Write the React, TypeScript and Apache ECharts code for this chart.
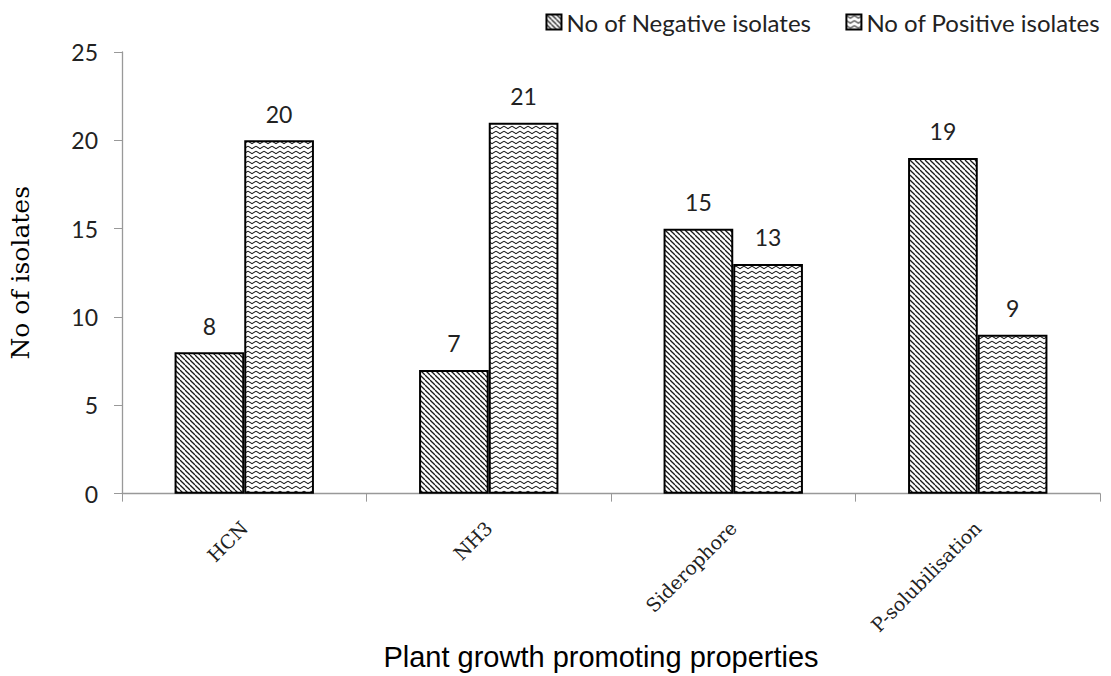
import React, { useEffect, useRef } from "react";
import * as echarts from "echarts";

const categories = ["HCN", "NH3", "Siderophore", "P-solubilisation"];
const negativeValues = [8, 7, 15, 19];
const positiveValues = [20, 21, 13, 9];
const seriesNames = ["No of Negative isolates", "No of Positive isolates"];
const yTicks = [0, 5, 10, 15, 20, 25];

function diagonalPattern(): HTMLCanvasElement {
  const s = 5;
  const c = document.createElement("canvas");
  c.width = s;
  c.height = s;
  const ctx = c.getContext("2d")!;
  ctx.fillStyle = "#ffffff";
  ctx.fillRect(0, 0, s, s);
  ctx.strokeStyle = "#1a1a1a";
  ctx.lineWidth = 1.3;
  for (const k of [-s, 0, s]) {
    ctx.beginPath();
    ctx.moveTo(k, 0);
    ctx.lineTo(k + s, s);
    ctx.stroke();
  }
  return c;
}

function wavePattern(): HTMLCanvasElement {
  const w = 8;
  const h = 5;
  const c = document.createElement("canvas");
  c.width = w;
  c.height = h;
  const ctx = c.getContext("2d")!;
  ctx.fillStyle = "#ffffff";
  ctx.fillRect(0, 0, w, h);
  ctx.strokeStyle = "#1a1a1a";
  ctx.lineWidth = 1.1;
  ctx.beginPath();
  ctx.moveTo(0, 1.2);
  ctx.lineTo(4, 3.6);
  ctx.lineTo(8, 1.2);
  ctx.stroke();
  return c;
}

export default function App() {
  const ref = useRef<HTMLDivElement>(null);
  useEffect(() => {
    if (!ref.current) return;
    const chart = echarts.init(ref.current, undefined, { renderer: "svg" });
    const negFill = { image: diagonalPattern(), repeat: "repeat" };
    const posFill = { image: wavePattern(), repeat: "repeat" };
    const labelStyle = {
      show: true,
      position: "top" as const,
      distance: 15,
      fontFamily: "Lato",
      fontSize: 23,
      color: "#222",
    };
    chart.setOption({
      animation: false,
      backgroundColor: "#ffffff",
      legend: {
        top: 5,
        right: 6,
        itemWidth: 15,
        itemHeight: 15,
        itemGap: 34,
        icon: "rect",
        textStyle: { fontFamily: "Lato", fontSize: 24, color: "#222" },
        data: seriesNames,
      },
      grid: { left: 114, right: 11, top: 52, bottom: 161, containLabel: false },
      xAxis: {
        type: "category",
        data: categories,
        name: "Plant growth promoting properties",
        nameLocation: "middle",
        nameGap: 142,
        nameTextStyle: {
          fontFamily: "Liberation Sans",
          fontSize: 29,
          color: "#000",
          padding: [0, 20, 0, 0],
        },
        axisLine: { lineStyle: { color: "#999", width: 1.3 } },
        axisTick: { show: true, length: 8, lineStyle: { color: "#999" } },
        axisLabel: {
          rotate: 45,
          interval: 0,
          margin: 31,
          fontFamily: "DejaVu Serif",
          fontSize: 19,
          color: "#222",
        },
      },
      yAxis: {
        type: "value",
        min: yTicks[0],
        max: yTicks[yTicks.length - 1],
        interval: 5,
        name: "No of isolates",
        nameLocation: "middle",
        nameGap: 89,
        nameTextStyle: { fontFamily: "DejaVu Serif", fontSize: 25, color: "#000" },
        axisLine: { show: true, lineStyle: { color: "#999", width: 1.3 } },
        axisTick: { show: true, length: 8, lineStyle: { color: "#999" } },
        splitLine: { show: false },
        axisLabel: { margin: 24, fontFamily: "Lato", fontSize: 23, color: "#222" },
      },
      series: [
        {
          name: seriesNames[0],
          type: "bar",
          data: negativeValues,
          barGap: "0%",
          barCategoryGap: "43%",
          itemStyle: { color: negFill, borderColor: "#000", borderWidth: 2 },
          label: labelStyle,
        },
        {
          name: seriesNames[1],
          type: "bar",
          data: positiveValues,
          itemStyle: { color: posFill, borderColor: "#000", borderWidth: 2 },
          label: labelStyle,
        },
      ],
    });
    return () => chart.dispose();
  }, []);
  return <div ref={ref} style={{ width: 1111, height: 676, position: "absolute", left: 0, top: 0 }} />;
}
